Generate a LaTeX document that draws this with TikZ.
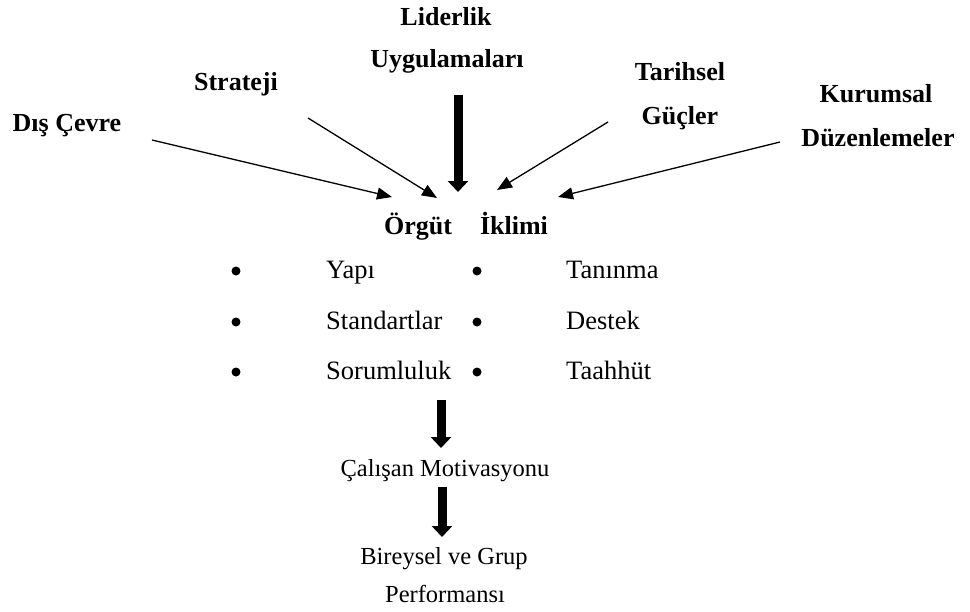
\documentclass[tikz,border=0pt]{standalone}
\usepackage{fontspec}
\setmainfont{Liberation Serif}
\usetikzlibrary{arrows.meta}
\tikzset{
  lbl/.style={font=\fontsize{26}{30}\selectfont\bfseries, anchor=base, inner sep=0pt},
  txt/.style={font=\fontsize{24.5}{30}\selectfont, anchor=base, inner sep=0pt},
  ltxt/.style={font=\fontsize{26.5}{30}\selectfont, anchor=base west, inner sep=0pt},
  dot/.style={circle, fill=black, inner sep=0pt, minimum size=9pt},
  thin/.style={line width=1.3pt, -{Triangle[width=12pt,length=15pt]}},
  thick/.style={line width=9pt, -{Triangle[width=20pt,length=11pt]}}
}
\begin{document}
\begin{tikzpicture}[x=1pt,y=-1pt]
\useasboundingbox (0,0) rectangle (970,611);
% top labels
\node[lbl] (lid1) at (446,25) {Liderlik};
\node[lbl] (lid2) at (447,67) {Uygulamaları};
\node[lbl] (str) at (236,90) {Strateji};
\node[lbl] (dis) at (67,131) {Dış Çevre};
\node[lbl] (tar1) at (680,80) {Tarihsel};
\node[lbl] (tar2) at (680,124) {Güçler};
\node[lbl] (kur1) at (876,102) {Kurumsal};
\node[lbl] (kur2) at (878,146) {Düzenlemeler};
% centre
\node[lbl] (org) at (418,234) {Örgüt};
\node[lbl] (ikl) at (514,234) {İklimi};
% arrow coordinates
\coordinate (disS) at (152,140);
\coordinate (disE) at (392,197);
\coordinate (strS) at (308,118);
\coordinate (strE) at (437,198);
\coordinate (lidS) at (458,95);
\coordinate (lidE) at (458,192);
\coordinate (tarS) at (608,122);
\coordinate (tarE) at (497,190);
\coordinate (kurS) at (780,142);
\coordinate (kurE) at (558,197);
\draw[thin] (disS) -- (disE);
\draw[thin] (strS) -- (strE);
\draw[thick] (lidS) -- (lidE);
\draw[thin] (tarS) -- (tarE);
\draw[thin] (kurS) -- (kurE);
% bullets
\node[dot] (b1) at (236,271) {};
\node[dot] (b2) at (236,322) {};
\node[dot] (b3) at (236,372) {};
\node[dot] (b4) at (477,271) {};
\node[dot] (b5) at (477,322) {};
\node[dot] (b6) at (477,372) {};
\node[ltxt] (yap) at (326,278) {Yapı};
\node[ltxt] (sta) at (326,329) {Standartlar};
\node[ltxt] (sor) at (326,379) {Sorumluluk};
\node[ltxt] (tan) at (566,278) {Tanınma};
\node[ltxt] (des) at (566,329) {Destek};
\node[ltxt] (taa) at (566,379) {Taahhüt};
% lower chain
\node[txt] (cal) at (445,476) {Çalışan Motivasyonu};
\node[txt] (bir1) at (444,564) {Bireysel ve Grup};
\node[txt] (bir2) at (445,602) {Performansı};
\coordinate (a2S) at (441,400);
\coordinate (a2E) at (441,448);
\coordinate (a3S) at (442,487);
\coordinate (a3E) at (442,537);
\draw[thick] (a2S) -- (a2E);
\draw[thick] (a3S) -- (a3E);
\end{tikzpicture}
\end{document}
